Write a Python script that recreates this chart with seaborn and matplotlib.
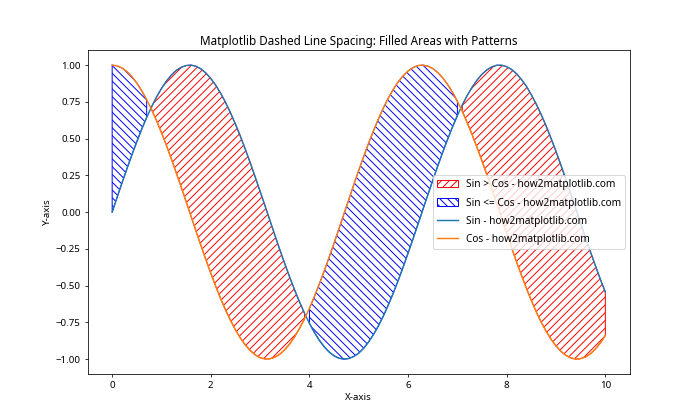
import seaborn as sns
import numpy as np
import pandas as pd
import matplotlib.pyplot as plt

# values, x from 0 to 10 in steps of 0.1
x_vals = [round(0.1 * k, 1) for k in range(101)]

sin_vals = [0.000, 0.100, 0.199, 0.296, 0.389, 0.479, 0.565, 0.644, 0.717, 0.783,
            0.841, 0.891, 0.932, 0.964, 0.985, 0.997, 1.000, 0.992, 0.974, 0.946,
            0.909, 0.863, 0.808, 0.746, 0.675, 0.598, 0.516, 0.427, 0.335, 0.239,
            0.141, 0.042, -0.058, -0.158, -0.256, -0.351, -0.443, -0.530, -0.612, -0.688,
            -0.757, -0.818, -0.872, -0.916, -0.952, -0.978, -0.994, -1.000, -0.996, -0.982,
            -0.959, -0.926, -0.883, -0.832, -0.773, -0.706, -0.631, -0.551, -0.465, -0.374,
            -0.279, -0.182, -0.083, 0.017, 0.117, 0.215, 0.312, 0.405, 0.494, 0.578,
            0.657, 0.729, 0.794, 0.850, 0.899, 0.938, 0.968, 0.988, 0.999, 0.999,
            0.989, 0.970, 0.941, 0.902, 0.855, 0.798, 0.734, 0.663, 0.585, 0.501,
            0.412, 0.319, 0.223, 0.124, 0.025, -0.075, -0.175, -0.272, -0.366, -0.458,
            -0.544]

cos_vals = [1.000, 0.995, 0.980, 0.955, 0.921, 0.878, 0.825, 0.765, 0.697, 0.622,
            0.540, 0.454, 0.362, 0.267, 0.170, 0.071, -0.029, -0.129, -0.227, -0.323,
            -0.416, -0.505, -0.589, -0.666, -0.737, -0.801, -0.857, -0.904, -0.942, -0.971,
            -0.990, -0.999, -0.998, -0.987, -0.967, -0.936, -0.897, -0.848, -0.791, -0.726,
            -0.654, -0.575, -0.490, -0.401, -0.307, -0.211, -0.112, -0.012, 0.087, 0.187,
            0.284, 0.378, 0.469, 0.554, 0.635, 0.709, 0.776, 0.835, 0.886, 0.927,
            0.960, 0.983, 0.997, 1.000, 0.993, 0.977, 0.950, 0.914, 0.869, 0.816,
            0.754, 0.685, 0.608, 0.526, 0.438, 0.347, 0.252, 0.155, 0.055, -0.045,
            -0.146, -0.244, -0.339, -0.431, -0.519, -0.602, -0.679, -0.749, -0.811, -0.865,
            -0.911, -0.948, -0.975, -0.992, -1.000, -0.997, -0.985, -0.963, -0.931, -0.890,
            -0.839]

df = pd.DataFrame({'x': x_vals, 'sin': sin_vals, 'cos': cos_vals})
above = df['sin'] > df['cos']

plt.rcParams['font.family'] = ['Noto Sans', 'DejaVu Sans']

fig, ax = plt.subplots(figsize=(10, 6), dpi=70)

ax.fill_between(df['x'], df['sin'], df['cos'], where=above,
                facecolor='none', edgecolor='red', hatch='///',
                label='Sin > Cos - how2matplotlib.com')
ax.fill_between(df['x'], df['sin'], df['cos'], where=~above,
                facecolor='none', edgecolor='blue', hatch='\\\\\\',
                label='Sin <= Cos - how2matplotlib.com')

sns.lineplot(data=df, x='x', y='sin', ax=ax, color='tab:blue',
             label='Sin - how2matplotlib.com')
sns.lineplot(data=df, x='x', y='cos', ax=ax, color='tab:orange',
             label='Cos - how2matplotlib.com')

ax.set_title('Matplotlib Dashed Line Spacing: Filled Areas with Patterns')
ax.set_xlabel('X-axis')
ax.set_ylabel('Y-axis')
ax.legend(loc='center right', labelspacing=0.7, fontsize=10.4)

plt.savefig('out.png', dpi=70)
